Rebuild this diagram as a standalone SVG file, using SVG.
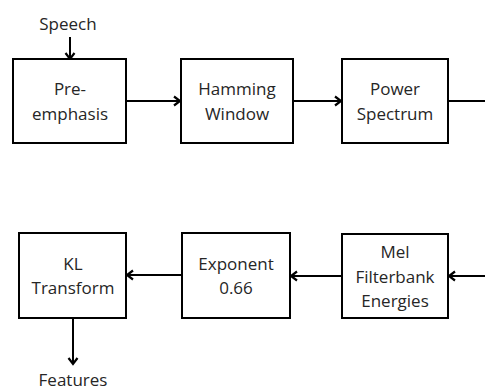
<svg xmlns="http://www.w3.org/2000/svg" width="485" height="390" viewBox="0 0 485 390">
<defs>
<style>
.box{fill:#fff;stroke:#000;stroke-width:2}
.ln{fill:none;stroke:#000;stroke-width:2}
text{font-family:"Open Sans","Liberation Sans",sans-serif;font-size:17px;fill:#262626;text-anchor:middle}
</style>
<marker id="ah" markerWidth="12" markerHeight="12" refX="9" refY="6" orient="auto" markerUnits="userSpaceOnUse">
<polyline points="3,1.5 9,6 3,10.5" fill="none" stroke="#000" stroke-width="2.2"/>
</marker>
</defs>
<rect width="485" height="390" fill="#fff"/>
<g id="connectors">
<line class="ln" x1="70" y1="37" x2="70" y2="59" marker-end="url(#ah)"/>
<line class="ln" x1="126" y1="101" x2="180" y2="101" marker-end="url(#ah)"/>
<line class="ln" x1="293" y1="101" x2="341" y2="101" marker-end="url(#ah)"/>
<line class="ln" x1="448" y1="101" x2="485" y2="101"/>
<line class="ln" x1="485" y1="276" x2="449" y2="276" marker-end="url(#ah)"/>
<line class="ln" x1="342" y1="276" x2="291" y2="276" marker-end="url(#ah)"/>
<line class="ln" x1="182" y1="275" x2="127" y2="275" marker-end="url(#ah)"/>
<line class="ln" x1="73" y1="318" x2="73" y2="364" marker-end="url(#ah)"/>
</g>
<g id="speech"><text x="68" y="30">Speech</text></g>
<g id="preemphasis"><rect class="box" x="13" y="59" width="113" height="84"/><text x="70" y="95">Pre-</text><text x="70" y="120">emphasis</text></g>
<g id="hamming"><rect class="box" x="181" y="59" width="112" height="84"/><text x="237" y="95">Hamming</text><text x="237" y="120">Window</text></g>
<g id="power"><rect class="box" x="342" y="59" width="106" height="84"/><text x="395" y="95">Power</text><text x="395" y="120">Spectrum</text></g>
<g id="mel"><rect class="box" x="342" y="234" width="106" height="84"/><text x="395" y="258">Mel</text><text x="395" y="283">Filterbank</text><text x="395" y="307">Energies</text></g>
<g id="exponent"><rect class="box" x="182" y="233" width="108" height="85"/><text x="236" y="270">Exponent</text><text x="236" y="294">0.66</text></g>
<g id="kl"><rect class="box" x="19" y="233" width="107" height="85"/><text x="73" y="270">KL</text><text x="73" y="294">Transform</text></g>
<g id="features"><text x="73" y="386">Features</text></g>
</svg>
